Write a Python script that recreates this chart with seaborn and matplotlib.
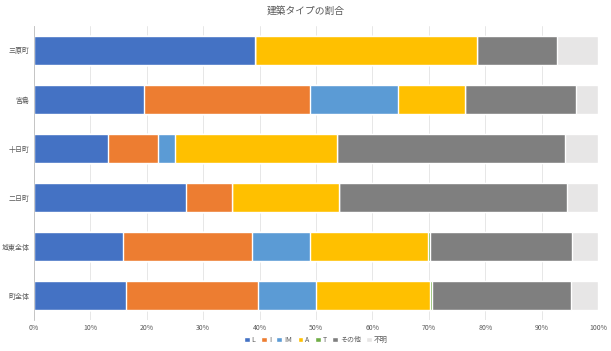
import pandas as pd
import numpy as np
import matplotlib.pyplot as plt
import seaborn as sns

# 地区
areas = ['三原町', '宮島', '十日町', '二日町', '城東全体', '町全体']
types = ['L', 'I', 'IM', 'A', 'T', 'その他', '不明']
colors = ['#4472C4', '#ED7D31', '#5B9BD5', '#FFC000', '#70AD47', '#7F7F7F', '#E7E6E6']

# 割合 (%)
val_L = [39.2, 19.5, 13.1, 27.0, 15.8, 16.3]
val_I = [0.0, 29.4, 8.9, 8.2, 22.9, 23.4]
val_IM = [0.0, 15.6, 3.0, 0.0, 10.3, 10.3]
val_A = [39.4, 11.9, 28.7, 19.0, 20.9, 20.2]
val_T = [0.0, 0.0, 0.0, 0.0, 0.4, 0.4]
val_other = [14.2, 19.7, 40.4, 40.4, 25.2, 24.6]
val_unknown = [7.3, 3.9, 5.9, 5.5, 4.6, 4.8]

sns.set_style('white')
plt.rcParams['font.family'] = ['Noto Sans CJK JP', 'DejaVu Sans']

df = pd.DataFrame({'地区': areas, 'L': val_L, 'I': val_I, 'IM': val_IM, 'A': val_A,
                   'T': val_T, 'その他': val_other, '不明': val_unknown})
# 累積で重ねる
cum = df[types].cumsum(axis=1)
cum = cum.div(cum['不明'], axis=0) * 100

fig = plt.figure(figsize=(6.11, 3.51), dpi=100)
ax = fig.add_axes([0.0556, 0.088, 0.9234, 0.838])

for t, c in reversed(list(zip(types, colors))):
    sns.barplot(x=cum[t], y=df['地区'], color=c, width=0.6, orient='h',
                ax=ax, label=t, saturation=1)

ax.set_xlim(0, 100)
ax.set_xticks(np.arange(0, 101, 10))
ax.set_xticklabels([f'{v}%' for v in range(0, 101, 10)])
ax.set_xlabel('')
ax.set_ylabel('')
ax.xaxis.grid(True, color='#E3E3E3', linewidth=0.6)
ax.set_axisbelow(True)
for s in ['top', 'right', 'bottom']:
    ax.spines[s].set_visible(False)
ax.spines['left'].set_color('#BFBFBF')
ax.spines['left'].set_linewidth(0.6)
ax.tick_params(axis='both', labelsize=5, colors='#595959', length=0, pad=3)

h, l = ax.get_legend_handles_labels()
ax.legend(h[::-1], l[::-1], loc='center', bbox_to_anchor=(0.5, -0.068), ncol=7,
          frameon=False, fontsize=5, labelcolor='#595959', handlelength=0.8,
          handleheight=0.8, handletextpad=0.3, columnspacing=0.8,
          borderpad=0.1)

fig.suptitle('建築タイプの割合', y=0.985, fontsize=7, color='#595959')
fig.savefig('out.png', dpi=100)
